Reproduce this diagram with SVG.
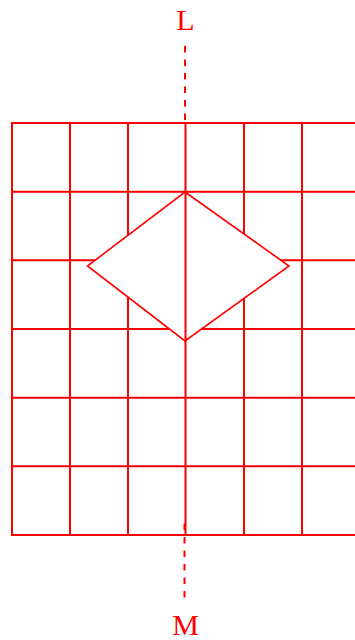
<svg xmlns="http://www.w3.org/2000/svg" width="355" height="640" viewBox="0 0 355 640">
<style>
.g{stroke:#f00;stroke-width:2;fill:none}
.d{stroke:#f00;stroke-width:1.6;fill:#fff}
.ax{stroke:#f00;stroke-width:2;stroke-dasharray:6.5,7;fill:none}
.t{font-family:"Liberation Serif",serif;font-size:30px;fill:#f00;text-anchor:middle}
</style>
<g id="grid">
<rect class="g" x="12" y="123" width="350" height="412"/>
<path class="g" d="M70 123V535M128 123V535M244 123V535M302 123V535M12 191.7H362M12 260.3H362M12 329H362M12 397.7H362M12 466.3H362"/>
</g>
<g id="diamond">
<polygon class="d" points="185,192 289,266 185,341 87.5,266"/>
</g>
<g id="connectors">
<line class="g" x1="185.5" y1="123" x2="185.5" y2="535"/>
<line class="ax" x1="185" y1="46" x2="185" y2="123"/>
<line class="ax" x1="184.5" y1="523.5" x2="184.5" y2="602"/>
</g>
<g id="labelL"><text class="t" x="185.5" y="30">L</text></g>
<g id="labelM"><text class="t" x="185.5" y="635">M</text></g>
</svg>
